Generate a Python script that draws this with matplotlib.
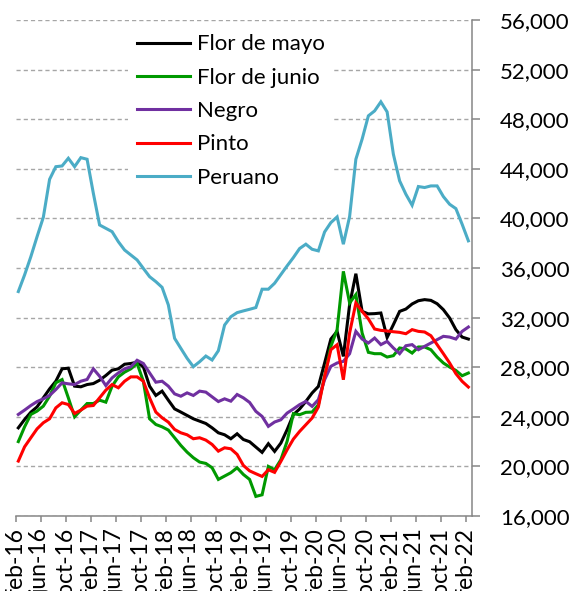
import matplotlib
matplotlib.use("Agg")
import matplotlib.pyplot as plt
import numpy as np
import pandas as pd

# monthly prices, feb-16 .. feb-22
months = pd.date_range("2016-02-01", "2022-02-01", freq="MS")
mes = {2: "feb", 6: "jun", 10: "oct"}

flor_de_mayo = [23110, 23780, 24370, 24800, 25530, 26250, 26870, 27870, 27920, 26470,
                26420, 26600, 26680, 26950, 27330, 27760, 27870, 28240, 28300, 28400,
                28030, 26470, 25720, 26070, 25340, 24640, 24380, 24110, 23840, 23650,
                23460, 23110, 22710, 22550, 22230, 22630, 22170, 21990, 21560, 21130,
                21830, 21210, 21880, 22960, 24170, 24630, 25240, 25920, 26450, 28340,
                30270, 30890, 28870, 33040, 35540, 32500, 32300, 32320, 32370, 30400,
                31430, 32500, 32690, 33100, 33360, 33450, 33390, 33120, 32640, 31970,
                31030, 30430, 30270]
flor_de_junio = [22000, 23190, 24190, 24460, 24860, 25660, 26740, 27000, 25530, 24000,
                 24540, 25070, 25070, 25340, 25180, 26470, 27220, 27600, 27870, 28300,
                 26870, 23840, 23380, 23190, 22930, 22310, 21690, 21150, 20700, 20350,
                 20240, 19890, 18950, 19220, 19490, 19890, 19350, 18950, 17580, 17710,
                 20000, 19730, 20540, 22020, 24250, 24170, 24360, 24380, 24970, 27260,
                 29680, 31030, 35730, 33180, 33850, 30760, 29200, 29090, 29090, 28820,
                 28930, 29550, 29470, 29140, 29630, 29630, 29410, 28820, 28340, 28010,
                 27740, 27310, 27530]
negro = [24190, 24540, 24910, 25230, 25450, 25720, 26200, 26740, 26660, 26600,
         26870, 27010, 27870, 27270, 26520, 27140, 27540, 27870, 28030, 28560,
         28300, 27540, 26790, 26870, 26470, 25850, 25660, 25930, 25720, 26070,
         25990, 25610, 25230, 25450, 25260, 25800, 25530, 25160, 24440, 24030,
         23230, 23580, 23760, 24300, 24630, 24980, 25240, 24840, 25380, 26990,
         28070, 28340, 28470, 29090, 30890, 30270, 29950, 30350, 29820, 30080,
         29550, 29090, 29730, 29820, 29410, 29680, 29950, 30220, 30490, 30430,
         30270, 30890, 31240]
pinto = [20430, 21580, 22310, 23030, 23520, 23840, 24720, 25130, 24990, 24270,
         24540, 24860, 24910, 25530, 26150, 26600, 26340, 26870, 27220, 27220,
         26870, 25530, 24380, 23920, 23570, 22980, 22710, 22550, 22230, 22310,
         22120, 21770, 21230, 21500, 21420, 20970, 20080, 19640, 19410, 19190,
         19730, 19520, 20400, 21340, 22200, 22820, 23360, 23900, 24790, 27260,
         29410, 29810, 26990, 30760, 33180, 32500, 31900, 31080, 30970, 30920,
         30860, 30810, 30700, 31030, 30890, 30840, 30540, 29820, 29090, 28340,
         27480, 26860, 26400]
peruano = [34100, 35440, 36910, 38530, 40090, 43150, 44170, 44230, 44850, 44170,
           44900, 44770, 42030, 39470, 39200, 38930, 38120, 37450, 37050, 36650,
           35970, 35300, 34900, 34440, 33020, 30330, 29520, 28720, 28040, 28440,
           28900, 28580, 29330, 31400, 32070, 32400, 32540, 32670, 32810, 34290,
           34290, 34770, 35470, 36170, 36840, 37570, 37920, 37510, 37380, 38910,
           39660, 40120, 37920, 40150, 44770, 46390, 48270, 48670, 49400, 48590,
           45180, 43030, 41950, 41060, 42570, 42490, 42620, 42620, 41760, 41140,
           40790, 39530, 38190]

series = [
    ("Flor de mayo", flor_de_mayo, "black"),
    ("Flor de junio", flor_de_junio, "#009900"),
    ("Negro", negro, "#7030A0"),
    ("Pinto", pinto, "#FF0000"),
    ("Peruano", peruano, "#4BACC6"),
]

plt.rcParams["font.family"] = ["Lato", "DejaVu Sans"]

fig = plt.figure(figsize=(5.69, 5.91), dpi=100)
ax = fig.add_axes([15.7 / 569, 75 / 591, 456.3 / 569, 496 / 591])

x = np.arange(len(months))
for name, vals, color in series:
    ax.plot(x, vals, color=color, lw=2.2, label=name, solid_joinstyle="miter")

# month ticks sit at the start of the month, points a little later (date axis)
shift = 0.42
ax.set_xlim(-shift, 73 - shift)
ax.set_ylim(16000, 56000)
ax.set_yticks(np.arange(16000, 56001, 4000))
ax.yaxis.set_major_formatter(matplotlib.ticker.FuncFormatter(lambda v, p: f"{v:,.0f}"))
ax.yaxis.tick_right()
ax.grid(axis="y", color="#A6A6A6", lw=1, dashes=(3, 2.2))
ax.set_axisbelow(True)

tick_idx = x[::4]
ax.set_xticks(tick_idx - shift)
ax.set_xticklabels([f"{mes[months[i].month]}-{months[i].strftime('%y')}" for i in tick_idx],
                   rotation=90, va="top", ha="center")

for s in ["top", "left"]:
    ax.spines[s].set_visible(False)
for s in ["bottom", "right"]:
    ax.spines[s].set_color("#868686")
    ax.spines[s].set_linewidth(1.1)
ax.tick_params(axis="x", colors="#868686", length=4.5, width=1.1, labelcolor="black",
               labelsize=16.5, pad=4)
ax.tick_params(axis="y", colors="#868686", length=6, width=1.1, labelcolor="black",
               labelsize=16, pad=14)

leg = ax.legend(loc="upper left", bbox_to_anchor=(128 / 569, 1 - 25.5 / 591),
                bbox_transform=fig.transFigure, fontsize=16, frameon=True,
                facecolor="white", edgecolor="none", framealpha=1, fancybox=False,
                handlelength=2.4, handletextpad=0.3, labelspacing=0.6,
                borderpad=0.4, borderaxespad=0)
for line in leg.get_lines():
    line.set_linewidth(2.2)

fig.savefig("out.png", dpi=100)
